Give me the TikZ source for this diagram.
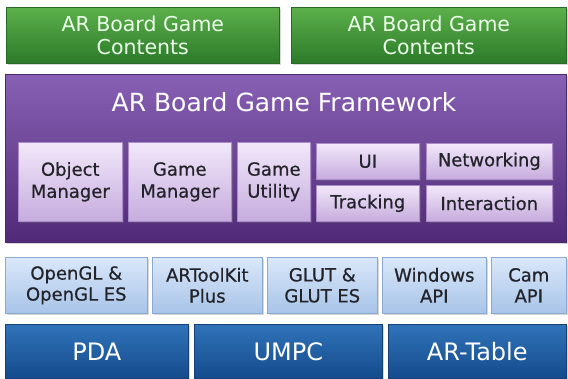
\documentclass[tikz,border=0pt]{standalone}
\usepackage{fontspec}
\setmainfont{DejaVu Sans}
\newfontfamily\semib[FakeBold=0.6]{DejaVu Sans}
\usetikzlibrary{shadows}
\definecolor{greenT}{RGB}{92,176,74}
\definecolor{greenB}{RGB}{44,122,42}
\definecolor{greenD}{RGB}{40,105,40}
\definecolor{purpT}{RGB}{136,96,180}
\definecolor{purpB}{RGB}{80,42,120}
\definecolor{purpD}{RGB}{76,42,110}
\definecolor{lavT}{RGB}{242,232,250}
\definecolor{lavB}{RGB}{198,172,222}
\definecolor{lavD}{RGB}{170,140,200}
\definecolor{lbT}{RGB}{218,232,250}
\definecolor{lbB}{RGB}{168,196,232}
\definecolor{lbD}{RGB}{138,168,208}
\definecolor{dbT}{RGB}{48,115,185}
\definecolor{dbB}{RGB}{20,75,140}
\definecolor{dbD}{RGB}{20,65,120}
\definecolor{txtD}{RGB}{35,35,42}
\tikzset{
  blk/.style={rectangle, anchor=north west, inner sep=0pt, align=center, line width=0.6pt,
    drop shadow={shadow xshift=1.5pt, shadow yshift=-1.5pt, opacity=0.3}},
  greenbox/.style={blk, draw=greenD, top color=greenT, bottom color=greenB,
    text=white!92!green, font=\fontsize{20.5}{23}\selectfont},
  purpbox/.style={blk, draw=purpD, top color=purpT, bottom color=purpB},
  lavbox/.style={blk, draw=lavD, top color=lavT, bottom color=lavB,
    text=txtD, font=\semib\fontsize{18}{22}\selectfont},
  lbbox/.style={blk, draw=lbD, top color=lbT, bottom color=lbB,
    text=txtD, font=\semib\fontsize{18}{21}\selectfont},
  dbbox/.style={blk, draw=dbD, top color=dbT, bottom color=dbB,
    text=white, font=\fontsize{24}{28}\selectfont},
  titletext/.style={text=white, font=\fontsize{25}{30}\selectfont, inner sep=0pt}
}
% \bx{style}{name}{x1}{y1}{x2}{y2}{text}
\newcommand{\bx}[7]{%
  \pgfmathsetmacro{\bw}{#5-#3}\pgfmathsetmacro{\bh}{#6-#4}%
  \node[#1, minimum width=\bw pt, minimum height=\bh pt] (#2) at (#3pt,-#4pt) {#7};}
\begin{document}
\begin{tikzpicture}
\useasboundingbox (0,0) rectangle (568pt,-379pt);
\fill[white] (0,0) rectangle (568pt,-379pt);
% contents
\bx{greenbox}{c1}{6}{7}{279}{63}{AR Board Game\\Contents}
\bx{greenbox}{c2}{291}{7}{566}{63}{AR Board Game\\Contents}
% framework
\bx{purpbox}{fw}{5}{74}{566}{242}{}
\node[titletext] (fwt) at (284pt,-102pt) {AR Board Game Framework};
\bx{lavbox}{om}{18}{142}{122}{221}{Object\\Manager}
\bx{lavbox}{gm}{128}{142}{231}{221}{Game\\Manager}
\bx{lavbox}{gu}{237}{142}{310}{221}{Game\\Utility}
\bx{lavbox}{ui}{316}{143}{419}{179}{UI}
\bx{lavbox}{nw}{426}{143}{552}{179}{Networking}
\bx{lavbox}{tr}{316}{185}{419}{221}{Tracking}
\bx{lavbox}{ia}{426}{185}{552}{221}{Interaction}
% libraries
\bx{lbbox}{gl}{5}{257}{147}{313}{OpenGL \&\\OpenGL ES}
\bx{lbbox}{ar}{152}{257}{262}{313}{ARToolKit\\Plus}
\bx{lbbox}{gt}{267}{257}{377}{313}{GLUT \&\\GLUT ES}
\bx{lbbox}{wa}{382}{257}{486}{313}{Windows\\API}
\bx{lbbox}{ca}{491}{257}{566}{313}{Cam\\API}
% platforms
\bx{dbbox}{pda}{5}{324}{188}{378}{PDA}
\bx{dbbox}{umpc}{194}{324}{382}{378}{UMPC}
\bx{dbbox}{art}{388}{324}{566}{378}{AR-Table}
\end{tikzpicture}
\end{document}
